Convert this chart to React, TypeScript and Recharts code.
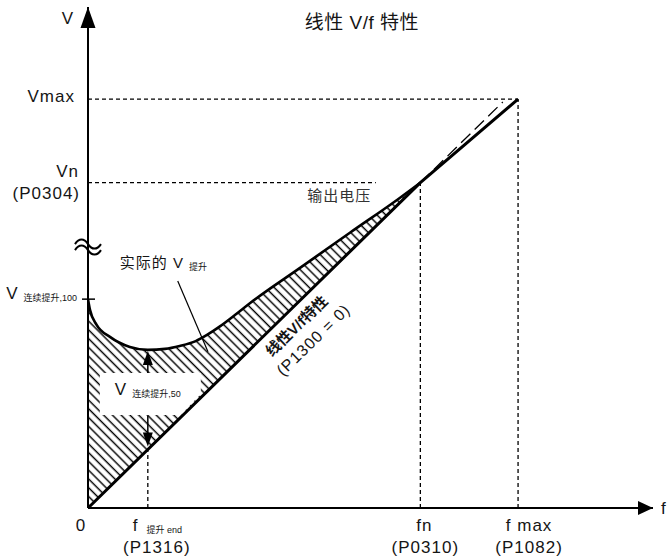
import React from 'react';
import { ComposedChart, Line, Area, XAxis, YAxis, ReferenceLine, ReferenceDot } from 'recharts';

// ---- key values (f axis in Hz-like units, V axis in % of Vn) ----
const F_BOOST_END = 9;
const F_N = 50;
const F_MAX = 64.7;
const F_AXIS_END = 85;
const V_CONT_100 = 64.2;
const V_N = 100;
const V_MAX = 125.7;
const V_AXIS_END = 154;
const V_BOOST_MIN = 48.6;
const V_AT_BOOST_END = 18;
const F_VN_DASH_END = 43.3;

// linear V/f characteristic
const linearF = [0, F_N, F_MAX];
const linearV = [0, V_N, V_MAX];
// dashed continuation of the linear slope above fn
const extF = [F_N, 62.4];
const extV = [V_N, 124.8];

// actual boost curve (upper edge of the hatched area)
const boostF = [0, 0.3, 1.3, 3.3, 6.3, 9, 11.6, 13.8, 16.2, 17.9, 19.9, 22.1, 24.4, 31.9, 39.4, 46.9, 50];
const boostV = [64.2, 60.9, 56.3, 52.6, 49.5, 48.6, 48.9, 49.8, 51.3, 53.2, 55.9, 59.3, 63.0, 73.8, 84.6, 95.3, 100];
// lower edge (the linear V/f line at the same f)
const baseV = [0, 0.6, 2.6, 6.6, 12.6, 18, 23.2, 27.6, 32.4, 35.8, 39.8, 44.2, 48.8, 63.8, 78.8, 93.8, 100];

// pointer of "实际的 V提升"
const pointerF = [13.5, 18.05];
const pointerV = [69.8, 48.0];

// tick labels
const fTicks = [0, F_BOOST_END, F_N, F_MAX];
const fTickMain = ['0', 'f', 'fn', 'f max'];
const fTickSub = ['', '提升 end', '', ''];
const fTickParam = ['', '(P1316)', '(P0310)', '(P1082)'];

const vTicks = [V_CONT_100, V_N, V_MAX];
const vTickMain = ['V', 'Vn', 'Vmax'];
const vTickSub = ['连续提升,100', '', ''];
const vTickParam = ['', '(P0304)', ''];

const TITLE = '线性 V/f 特性';
const LABEL_BOOST = '实际的 V';
const LABEL_BOOST_SUB = '提升';
const LABEL_C50 = 'V';
const LABEL_C50_SUB = '连续提升,50';
const LABEL_OUT = '输出电压';
const LABEL_LIN1 = '线性V/f特性';
const LABEL_LIN2 = '(P1300 = 0)';

// ---- layout & styles ----
const W = 668;
const H = 559;
const MARGIN = { top: 7, right: 15, bottom: 0, left: 0 };
const Y_AXIS_W = 88;
const X_AXIS_H = 51;
const PLOT_LEFT = MARGIN.left + Y_AXIS_W;
const PLOT_TOP = MARGIN.top;
const PLOT_RIGHT = W - MARGIN.right;
const PLOT_BOTTOM = H - MARGIN.bottom - X_AXIS_H;

const FONT = "'Liberation Sans', Arial, 'Noto Sans CJK SC', sans-serif";
const INK = '#151515';
const base: any = { fontFamily: FONT, fill: INK, fontSize: 17, letterSpacing: 1 };
const DASH = '4 3';

const XTick = (props: any) => {
  const { x, y, payload } = props;
  const i = fTicks.indexOf(payload.value);
  if (i < 0) return <g />;
  const mainDx = [-7, -15, 4, 11];
  const anchor = ['middle', 'start', 'middle', 'middle'];
  const paramDx = [0, 9, 5, 11];
  return (
    <g>
      <text {...base} x={x + mainDx[i]} y={y + 23} textAnchor={anchor[i]}>
        {fTickMain[i]}
        {fTickSub[i] ? (
          <tspan fontSize={9} dx={8} dy={2} letterSpacing={0}>
            {fTickSub[i]}
          </tspan>
        ) : null}
      </text>
      {fTickParam[i] ? (
        <text {...base} x={x + paramDx[i]} y={y + 45} textAnchor="middle">
          {fTickParam[i]}
        </text>
      ) : null}
    </g>
  );
};

const YTick = (props: any) => {
  const { x, y, payload } = props;
  const i = vTicks.indexOf(payload.value);
  if (i < 0) return <g />;
  const mainDx = [-11, -9, -13];
  const mainDy = [0, -6, 3];
  return (
    <g>
      {i === 0 ? <line x1={x - 6} x2={x + 7} y1={y} y2={y} stroke="#000" strokeWidth={1.5} /> : null}
      <text {...base} x={x + mainDx[i]} y={y + mainDy[i]} textAnchor="end">
        {vTickMain[i]}
        {vTickSub[i] ? (
          <tspan fontSize={9} dx={5} dy={2} letterSpacing={0}>
            {vTickSub[i]}
          </tspan>
        ) : null}
      </text>
      {vTickParam[i] ? (
        <text {...base} x={x - 8} y={y + 16} textAnchor="end">
          {vTickParam[i]}
        </text>
      ) : null}
    </g>
  );
};

const annot = (key: string, x: number, y: number, render: (cx: number, cy: number) => any) => (
  <ReferenceDot
    key={key}
    x={x}
    y={y}
    r={1}
    fill="none"
    stroke="none"
    ifOverflow="visible"
    shape={(p: any) => <g>{render(Number(p.cx), Number(p.cy))}</g>}
  />
);

export default function App() {
  const linearData = linearF.map((f, i) => ({ f, v: linearV[i] }));
  const extData = extF.map((f, i) => ({ f, v: extV[i] }));
  const boostData = boostF.map((f, i) => ({ f, hi: boostV[i], band: [baseV[i], boostV[i]] }));

  return (
    <div style={{ position: 'absolute', left: 0, top: 0, width: W, height: H, background: '#fff' }}>
      <ComposedChart width={W} height={H} margin={MARGIN}>
        <defs>
          <pattern id="hatch" patternUnits="userSpaceOnUse" width="6.2" height="6.2" patternTransform="rotate(-45)">
            <line x1="3" y1="0" x2="3" y2="6.2" stroke="#000" strokeWidth="1.45" />
          </pattern>
        </defs>
        <XAxis
          type="number"
          dataKey="f"
          domain={[0, F_AXIS_END]}
          ticks={fTicks}
          interval={0}
          height={X_AXIS_H}
          tickSize={0}
          tickMargin={0}
          tickLine={false}
          axisLine={{ stroke: '#000', strokeWidth: 2 }}
          tick={(p: any) => <XTick {...p} />}
          allowDataOverflow
        />
        <YAxis
          type="number"
          domain={[0, V_AXIS_END]}
          ticks={vTicks}
          interval={0}
          width={Y_AXIS_W}
          tickSize={0}
          tickMargin={0}
          tickLine={false}
          axisLine={{ stroke: '#000', strokeWidth: 2 }}
          tick={(p: any) => <YTick {...p} />}
          allowDataOverflow
        />

        <Area data={boostData} dataKey="band" type="monotone" stroke="none" fill="url(#hatch)" fillOpacity={1} isAnimationActive={false} />

        {/* white label box over the hatch + up arrow */}
        {annot('c50', F_BOOST_END, V_BOOST_MIN, (cx, cy) => (
          <g>
            <polygon
              points={`${cx - 48},${cy + 23} ${cx + 53},${cy + 23} ${cx + 53},${cy + 44} ${cx + 33},${cy + 65} ${cx - 48},${cy + 65}`}
              fill="#fff"
            />
            <line x1={cx} x2={cx} y1={cy + 12} y2={cy + 23} stroke="#000" strokeWidth={1.5} />
            <polygon points={`${cx},${cy + 1} ${cx - 5},${cy + 15} ${cx + 5},${cy + 15}`} fill="#000" />
            <text {...base} x={cx - 33} y={cy + 45}>
              {LABEL_C50}
              <tspan fontSize={9} dx={5} dy={2} letterSpacing={0}>
                {LABEL_C50_SUB}
              </tspan>
            </text>
          </g>
        ))}
        {annot('down', F_BOOST_END, V_AT_BOOST_END, (cx, cy) => (
          <g>
            <line x1={cx} x2={cx} y1={cy - 34} y2={cy - 14} stroke="#000" strokeWidth={1.5} />
            <polygon points={`${cx},${cy - 3} ${cx - 5},${cy - 17} ${cx + 5},${cy - 17}`} fill="#000" />
          </g>
        ))}

        {/* dashed guide lines */}
        <ReferenceLine segment={[{ x: 0, y: V_MAX }, { x: F_MAX, y: V_MAX }]} stroke="#000" strokeWidth={1.3} strokeDasharray={DASH} ifOverflow="visible" />
        <ReferenceLine segment={[{ x: F_MAX, y: 0 }, { x: F_MAX, y: V_MAX }]} stroke="#000" strokeWidth={1.3} strokeDasharray={DASH} ifOverflow="visible" />
        <ReferenceLine segment={[{ x: 0, y: V_N }, { x: F_VN_DASH_END, y: V_N }]} stroke="#000" strokeWidth={1.3} strokeDasharray={DASH} ifOverflow="visible" />
        <ReferenceLine segment={[{ x: F_N, y: 0 }, { x: F_N, y: V_N }]} stroke="#000" strokeWidth={1.3} strokeDasharray={DASH} ifOverflow="visible" />
        <ReferenceLine segment={[{ x: F_BOOST_END, y: 0 }, { x: F_BOOST_END, y: V_AT_BOOST_END }]} stroke="#000" strokeWidth={1.3} strokeDasharray={DASH} ifOverflow="visible" />

        {/* pointer */}
        <ReferenceLine segment={[{ x: pointerF[0], y: pointerV[0] }, { x: pointerF[1], y: pointerV[1] }]} stroke="#000" strokeWidth={1.2} ifOverflow="visible" />

        <Line data={extData} dataKey="v" type="linear" stroke="#000" strokeWidth={1.3} strokeDasharray="13 6" dot={false} isAnimationActive={false} />
        <Line data={linearData} dataKey="v" type="linear" stroke="#000" strokeWidth={3} dot={false} isAnimationActive={false} />
        <Line data={boostData} dataKey="hi" type="monotone" stroke="#000" strokeWidth={2.6} dot={false} isAnimationActive={false} />

        {/* axis names */}
        {annot('vName', 0, V_AXIS_END, (cx, cy) => (
          <text {...base} x={cx - 14} y={cy + 17} textAnchor="end">V</text>
        ))}
        {annot('fName', F_AXIS_END, 0, (cx, cy) => (
          <text {...base} x={cx + 8} y={cy + 6}>f</text>
        ))}
        {annot('break', 0, 80.5, (cx, cy) => (
          <g fill="none" stroke="#000" strokeWidth={2}>
            <path d={`M ${cx - 13} ${cy - 2} c 4 -6 9 -6 13 0 s 9 6 13 0`} />
            <path d={`M ${cx - 13} ${cy + 4} c 4 -6 9 -6 13 0 s 9 6 13 0`} />
          </g>
        ))}

        {/* title */}
        {annot('title', 41.2, V_AXIS_END, (cx, cy) => (
          <text {...base} fontSize={19} x={cx} y={cy + 22} textAnchor="middle" letterSpacing={0.5}>
            {TITLE}
          </text>
        ))}
        {/* actual boost label */}
        {annot('boostLbl', pointerF[0], pointerV[0], (cx, cy) => (
          <text {...base} fontSize={15} x={cx - 58} y={cy - 13}>
            {LABEL_BOOST}
            <tspan fontSize={9} dx={5} dy={2} letterSpacing={0}>
              {LABEL_BOOST_SUB}
            </tspan>
          </text>
        ))}
        {/* output voltage */}
        {annot('out', F_N, V_N, (cx, cy) => (
          <text {...base} fontSize={15} fill="#333" x={cx - 113} y={cy + 18}>
            {LABEL_OUT}
          </text>
        ))}
        {/* rotated labels along linear line */}
        {annot('lin', 30, 60, (cx, cy) => (
          <g>
            <text {...base} fontSize={15} fontWeight="bold" letterSpacing={0} x={cx + 9} y={cy + 13} textAnchor="middle" dominantBaseline="central" transform={`rotate(-44 ${cx + 9} ${cy + 13})`}>
              {LABEL_LIN1}
            </text>
            <text {...base} fontSize={16} x={cx + 26} y={cy + 27} textAnchor="middle" dominantBaseline="central" transform={`rotate(-44 ${cx + 26} ${cy + 27})`}>
              {LABEL_LIN2}
            </text>
          </g>
        ))}
      </ComposedChart>

      {/* axis arrow heads at the ends of the plot area */}
      <svg width={W} height={H} style={{ position: 'absolute', left: 0, top: 0, pointerEvents: 'none', overflow: 'visible' }}>
        <path d={`M ${PLOT_LEFT} ${PLOT_TOP} L ${PLOT_LEFT - 7.5} ${PLOT_TOP + 21} L ${PLOT_LEFT + 7.5} ${PLOT_TOP + 21} Z`} fill="#000" />
        <path d={`M ${PLOT_RIGHT} ${PLOT_BOTTOM} L ${PLOT_RIGHT - 15} ${PLOT_BOTTOM - 7} L ${PLOT_RIGHT - 15} ${PLOT_BOTTOM + 7} Z`} fill="#000" />
      </svg>
    </div>
  );
}
